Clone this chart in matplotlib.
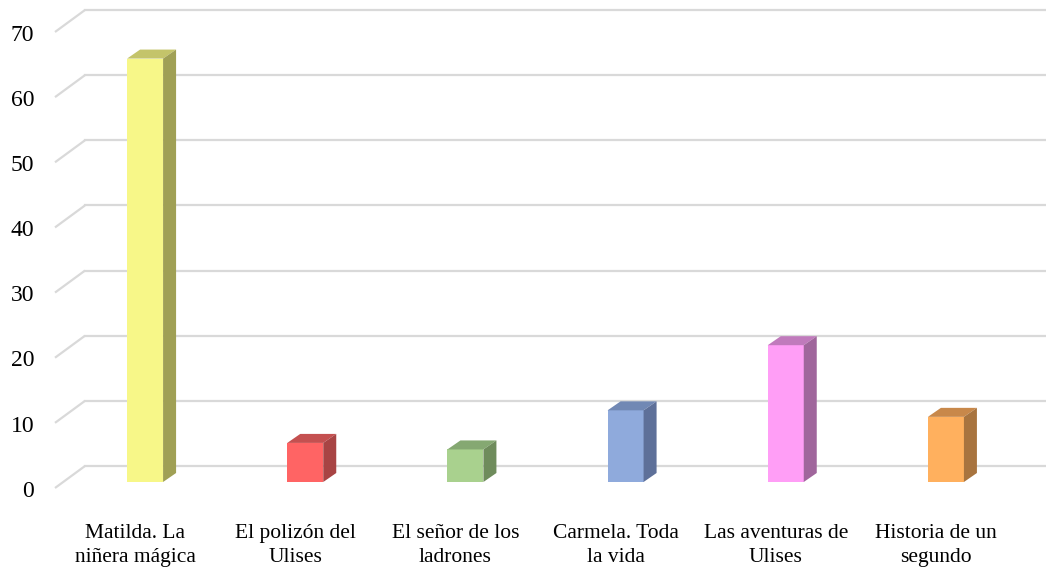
import matplotlib.pyplot as plt
from matplotlib.patches import Polygon

categories = ['Matilda. La\nniñera mágica', 'El polizón del\nUlises', 'El señor de los\nladrones',
              'Carmela. Toda\nla vida', 'Las aventuras de\nUlises', 'Historia de un\nsegundo']
values = [65, 6, 5, 11, 21, 10]
yticks = [0, 10, 20, 30, 40, 50, 60, 70]

front_colors = ['#F7F788', '#FF6464', '#A9D18E', '#8FAADC', '#FF9EF6', '#FFB05E']
side_colors = ['#A0A055', '#A84444', '#6F8C5C', '#5E7099', '#A0669C', '#A8743F']
top_colors = ['#C4C46A', '#C45050', '#85A872', '#7188B4', '#C07ABC', '#C8884A']

plt.rcParams['font.family'] = ['Liberation Serif', 'DejaVu Serif']

fig = plt.figure(figsize=(10.46, 5.69), dpi=100)
ax = fig.add_axes([0, 0, 1, 1])
ax.axis('off')

# front plane: x 0..6 -> px 55..1016, y 0..70 -> px 488..32
pxx = 961 / 6.0
pxy = 456 / 70.0
ax.set_xlim(-55 / pxx, 6 + 30 / pxx)
ax.set_ylim(-(569 - 488) / pxy, 70 + 32 / pxy)

# depth offsets (data units)
wdx, wdy = 30 / pxx, 22 / pxy      # back wall
fdx, fdy = 10 / pxx, 6 / pxy       # bar front
bdx, bdy = 23 / pxx, 15 / pxy      # bar back
w = 36 / pxx

grid_c = '#D9D9D9'
for v in yticks:
    ax.plot([0, wdx], [v, v + wdy], color=grid_c, lw=1.6, zorder=1, solid_capstyle='butt')
    ax.plot([wdx, 6 + 30 / pxx], [v + wdy, v + wdy], color=grid_c, lw=1.6, zorder=1)
    ax.text(-0.13, v - 0.5, str(v), ha='right', va='center', fontsize=17, color='#000000')

for i, v in enumerate(values):
    c = i + 0.5
    x0 = c - w / 2
    x1 = c + w / 2
    ax.bar(c + fdx, v, width=w, bottom=fdy, color=front_colors[i], zorder=3, linewidth=0)
    top = Polygon([(x0 + fdx, v + fdy), (x1 + fdx, v + fdy), (x1 + bdx, v + bdy), (x0 + bdx, v + bdy)],
                  closed=True, facecolor=top_colors[i], edgecolor='none', zorder=3)
    side = Polygon([(x1 + fdx, fdy), (x1 + bdx, bdy), (x1 + bdx, v + bdy), (x1 + fdx, v + fdy)],
                   closed=True, facecolor=side_colors[i], edgecolor='none', zorder=3)
    ax.add_patch(top)
    ax.add_patch(side)
    ax.text(c, -5.6, categories[i], ha='center', va='top', fontsize=15.5, linespacing=1.35)

fig.savefig('out.png', dpi=100)
